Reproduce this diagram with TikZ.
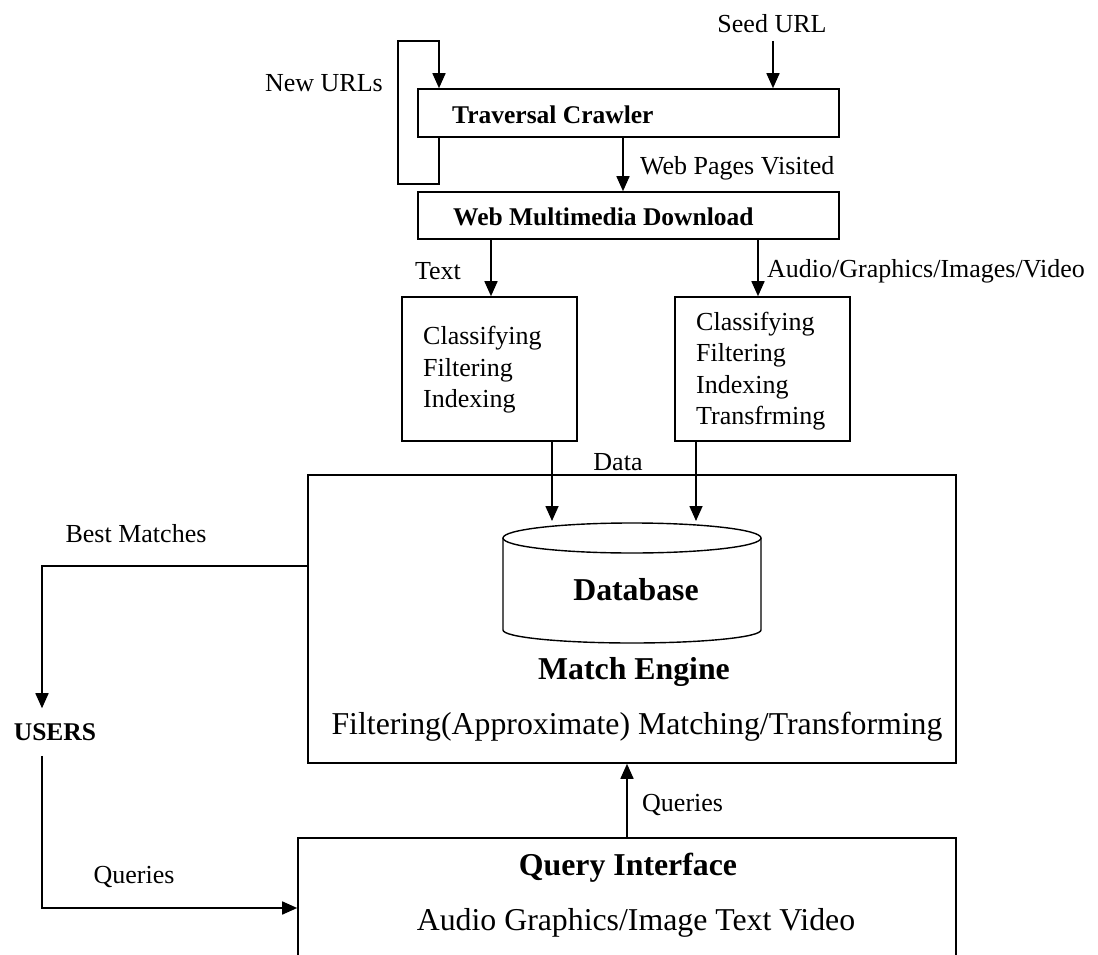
\documentclass[tikz,border=0pt]{standalone}
\usepackage{fontspec}
\setmainfont{Liberation Serif}
\usetikzlibrary{arrows.meta,fit}
\tikzset{
  arr/.style={line width=1.6pt, -{Triangle[length=15pt,width=13pt]}},
  box/.style={draw, line width=1.6pt, inner sep=0pt},
  lbl/.style={font=\fontsize{26}{31.5}\selectfont, inner sep=0pt},
  blbl/.style={font=\fontsize{25.5}{31}\selectfont\bfseries, inner sep=0pt},
  big/.style={font=\fontsize{31.8}{38}\selectfont, inner sep=0pt},
  bigb/.style={font=\fontsize{31.8}{38}\selectfont\bfseries, inner sep=0pt},
}
\begin{document}
\begin{tikzpicture}[x=1pt,y=-1pt]
\useasboundingbox (0,0) rectangle (1098,955);

% boxes
\node[box, fit={(418,89) (839,137)}] (trav) {};
\node[box, fit={(418,192) (839,239)}] (wmd) {};
\node[box, fit={(402,297) (577,441)}] (cl1) {};
\node[box, fit={(675,297) (850,441)}] (cl2) {};
\node[box, fit={(308,475) (956,763)}] (match) {};
\node[box, fit={(298,838) (956,985)}] (qi) {};

% box texts
\node[blbl, anchor=west] (travt) at (452,115) {Traversal Crawler};
\node[blbl, anchor=west] (wmdt) at (453,217) {Web Multimedia Download};
\node[lbl, anchor=west, align=left] (cl1t) at (423,370) {Classifying\\Filtering\\Indexing};
\node[lbl, anchor=west, align=left] (cl2t) at (696,371) {Classifying\\Filtering\\Indexing\\Transfrming};
\node[bigb] (mt) at (634,672) {Match Engine};
\node[big] (mf) at (637,727) {Filtering(Approximate) Matching/Transforming};
\node[bigb] (qit) at (628,868) {Query Interface};
\node[big] (qia) at (636,923) {Audio Graphics/Image Text Video};

% database cylinder
\draw[line width=1.4pt] (632,538) ellipse[x radius=129, y radius=15];
\draw[line width=1.4pt] (503,538) -- (503,630) arc[start angle=180, end angle=0, x radius=129, y radius=13] -- (761,538);
\node[bigb] (db) at (636,590) {Database};

% labels
\node[lbl] (seed) at (772,24) {Seed URL};
\node[lbl, anchor=east] (newurl) at (383,83) {New URLs};
\node[lbl, anchor=west] (wpv) at (640,168) {Web Pages Visited};
\node[lbl] (textl) at (438,271) {Text};
\node[lbl, anchor=west] (avl) at (767,271) {Audio/Graphics/Images/Video};
\node[lbl] (datal) at (618,462) {Data};
\node[lbl] (bml) at (136,534) {Best Matches};
\node[blbl, inner ysep=15pt] (users) at (55,732) {USERS};
\node[lbl] (q1) at (134,877) {Queries};
\node[lbl, anchor=west] (q2) at (642,805) {Queries};

% connectors
\coordinate (seedA) at (773,41);
\draw[arr] (seedA) -- (seedA |- trav.north);

\coordinate (loopT) at (439,41);
\coordinate (loopL) at (398,184);
\draw[arr] (loopT |- trav.south) -- (loopT |- loopL) -- (loopL) -- (loopL |- loopT) -- (loopT) -- (loopT |- trav.north);

\coordinate (wpx) at (623,0);
\draw[arr] (wpx |- trav.south) -- (wpx |- wmd.north);

\coordinate (tx) at (491,0);
\draw[arr] (tx |- wmd.south) -- (tx |- cl1.north);
\coordinate (ax) at (758,0);
\draw[arr] (ax |- wmd.south) -- (ax |- cl2.north);

\coordinate (d1) at (552,521);
\coordinate (d2) at (696,521);
\draw[arr] (d1 |- cl1.south) -- (d1);
\draw[arr] (d2 |- cl2.south) -- (d2);

\coordinate (bmL) at (42,566);
\draw[arr] (match.west |- bmL) -- (bmL) -- (bmL |- users.north);

\coordinate (qL) at (42,908);
\draw[arr] (qL |- users.south) -- (qL) -- (qi.west |- qL);

\coordinate (qx) at (627,0);
\draw[arr] (qx |- qi.north) -- (qx |- match.south);
\end{tikzpicture}
\end{document}
